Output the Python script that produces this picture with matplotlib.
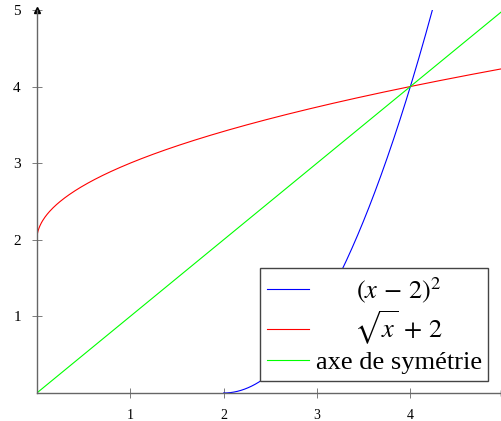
import numpy as np
import matplotlib
matplotlib.use("Agg")
import matplotlib.pyplot as plt
from matplotlib.transforms import Affine2D

plt.rcParams["font.family"] = ["Liberation Serif", "DejaVu Serif"]
plt.rcParams["mathtext.fontset"] = "stix"

# ── DATA ───────────────────────────────────────────────────────
x_ticks = [1, 2, 3, 4, 5]
y_ticks = [1, 2, 3, 4, 5]
labels = [r"$(x\,-\,2)^2$", r"$\sqrt{x}\,+\,2$", "axe de symétrie"]
colors = ["#0000ff", "#ff0000", "#00ff00"]

x_par = np.linspace(2, 5, 400)
x_sqrt = np.concatenate([np.linspace(0, 0.05, 200), np.linspace(0.05, 5, 400)])
x_lin = np.array([0, 5])

# ── FIGURE ─────────────────────────────────────────────────────
fig = plt.figure(figsize=(5.01, 4.21), dpi=100)
ax = fig.add_axes([0.0735, 0.0665, 0.932, 0.91])
ax.set_xlim(0, 5)
ax.set_ylim(0, 5)

ax.plot(x_par, (x_par - 2) ** 2, color=colors[0], lw=0.8, label=labels[0])
ax.plot(x_sqrt, np.sqrt(x_sqrt) + 2, color=colors[1], lw=0.8, label=labels[1])
ax.plot(x_lin, x_lin, color=colors[2], lw=0.8, label=labels[2])

# axis lines through the origin with arrow heads
for side in ["top", "right"]:
    ax.spines[side].set_visible(False)
for side in ["left", "bottom"]:
    ax.spines[side].set_color("#666666")
    ax.spines[side].set_linewidth(1.0)
    ax.spines[side].set_zorder(3)
ax.plot(1, 0, marker=">", color="k", ms=4, transform=ax.get_yaxis_transform(), clip_on=False)
ax.plot(0, 1, marker="^", color="k", ms=4, transform=ax.get_xaxis_transform(), clip_on=False)

ax.set_xticks(x_ticks)
ax.set_yticks(y_ticks)
ax.tick_params(axis="both", direction="inout", length=7, width=0.6, color="#666666")
ax.tick_params(axis="x", labelsize=10, pad=8)
ax.tick_params(axis="y", labelsize=11, pad=8)

leg = ax.legend(loc="lower right", bbox_to_anchor=(0.967, 0.032), fontsize=19,
                frameon=True, fancybox=False, edgecolor="#444444",
                handlelength=1.6, handletextpad=0.25, borderpad=0.25,
                labelspacing=0.15, borderaxespad=0)
leg.get_frame().set_linewidth(1.0)
leg.get_frame().set_alpha(1)

# centre the shorter labels within the text column
fig.canvas.draw()
renderer = fig.canvas.get_renderer()
widths = [t.get_window_extent(renderer).width for t in leg.get_texts()]
for t, w in zip(leg.get_texts(), widths):
    t.set_transform(t.get_transform() + Affine2D().translate((max(widths) - w) / 2, 0))

fig.savefig("out.png", dpi=100)
